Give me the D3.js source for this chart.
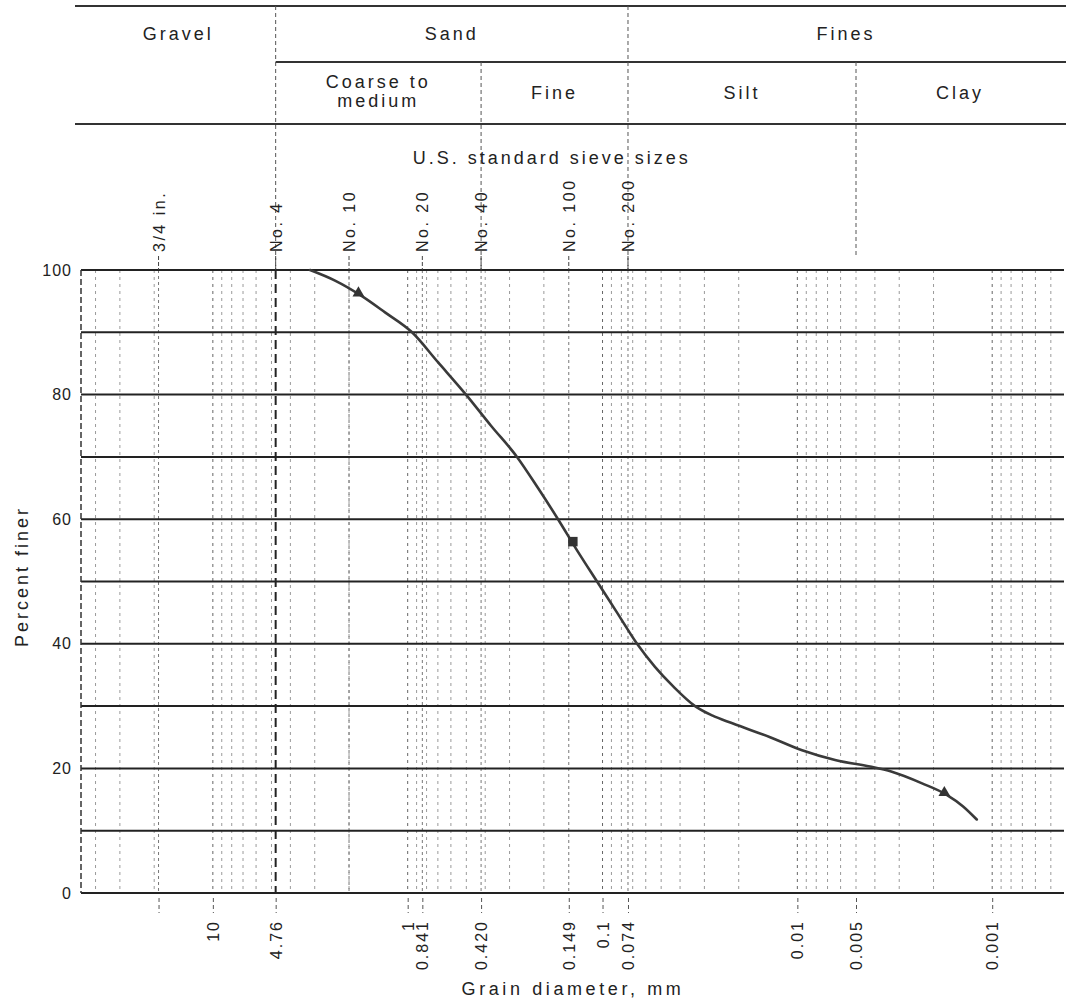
<!DOCTYPE html>
<html>
<head>
<meta charset="utf-8">
<script src="https://cdn.jsdelivr.net/npm/d3@7"></script>
<style>
  html, body { margin: 0; padding: 0; background: #fff; }
  svg text { font-family: "Liberation Sans", Arial, Helvetica, sans-serif; fill: #222; }
</style>
</head>
<body>
<svg id="chart" width="1066" height="1003"></svg>
<script>
// ---------------- DATA ----------------
// Grain-size distribution curve: diameter (mm) and percent finer
const curveDiameter = [3.17, 2.36, 1.757, 1.307, 0.950, 0.699, 0.502, 0.3735, 0.2747, 0.2143, 0.1692,
  0.1351, 0.1067, 0.0842, 0.0665, 0.0538, 0.0435, 0.0335, 0.0274, 0.0214, 0.0138, 0.00946, 0.00633,
  0.00424, 0.0033, 0.00229, 0.00172, 0.00141, 0.0012];
const curvePercent = [100, 98.3, 96.0, 93.2, 90, 85.2, 80, 75, 70, 65, 60,
  55, 50, 45, 40, 36.3, 33.2, 30, 28.5, 27.2, 25, 22.9, 21.3,
  20.3, 19.5, 17.6, 15.8, 13.9, 11.8];

// Hand-marked points on the curve
const markDiameter = [1.79, 0.142, 0.00176];
const markPercent = [96.3, 56.4, 16.1];

// U.S. standard sieves
const sieveNames = ["3/4 in.", "No. 4", "No. 10", "No. 20", "No. 40", "No. 100", "No. 200"];
const sieveOpening = [19, 4.76, 2.0, 0.841, 0.42, 0.149, 0.074];

// Soil classes (header)
const classRow1 = ["Gravel", "Sand", "Fines"];
const classRow1Bounds = [[47.5, 4.76], [4.76, 0.074], [0.074, 0.000428]];
const classRow2 = [["Coarse to", "medium"], ["Fine"], ["Silt"], ["Clay"]];
const classRow2Bounds = [[4.76, 0.42], [0.42, 0.074], [0.074, 0.005], [0.005, 0.000428]];

// Bottom axis ticks
const xTickValues = [19, 10, 4.76, 1, 0.841, 0.42, 0.149, 0.1, 0.074, 0.01, 0.005, 0.001];
const xTickLabels = ["", "10", "4.76", "1", "0.841", "0.420", "0.149", "0.1", "0.074", "0.01", "0.005", "0.001"];
const yTickValues = [0, 20, 40, 60, 80, 100];
const yGridValues = [0, 10, 20, 30, 40, 50, 60, 70, 80, 90, 100];

// ---------------- LAYOUT ----------------
const svg = d3.select("#chart");
const P = { left: 81, right: 1064, top: 270, bottom: 893 };
const header = { top: 6, mid: 62, low: 124, lineLeft: 75, lineRight: 1066 };

const x = d3.scaleLog().domain([47.5, 0.000428]).range([P.left, P.right]);
const y = d3.scaleLinear().domain([0, 100]).range([P.bottom, P.top]);

// minor log grid (vertical)
const minor = [];
for (let e = -4; e <= 1; e++) {
  for (let m = 1; m <= 9; m++) {
    const v = m * Math.pow(10, e);
    if (v < 47.5 && v > 0.000428) minor.push(v);
  }
}
const isDecade = d => Math.abs(Math.log10(d) - Math.round(Math.log10(d))) < 1e-9;
svg.append("g").selectAll("line").data(minor).join("line")
  .attr("x1", d => x(d)).attr("x2", d => x(d))
  .attr("y1", P.top).attr("y2", P.bottom)
  .attr("stroke", d => isDecade(d) ? "#666" : "#9a9a9a")
  .attr("stroke-width", 1)
  .attr("stroke-dasharray", "3,4");

// sieve lines through plot
svg.append("g").selectAll("line").data(sieveOpening).join("line")
  .attr("x1", d => x(d)).attr("x2", d => x(d))
  .attr("y1", P.top).attr("y2", P.bottom)
  .attr("stroke", d => d === 4.76 ? "#222" : "#777")
  .attr("stroke-width", d => d === 4.76 ? 2 : 1)
  .attr("stroke-dasharray", d => d === 4.76 ? "9,5" : "3,3");

// horizontal grid
svg.append("g").selectAll("line").data(yGridValues).join("line")
  .attr("x1", P.left).attr("x2", P.right)
  .attr("y1", d => y(d)).attr("y2", d => y(d))
  .attr("stroke", "#222").attr("stroke-width", 2);

// left edge
svg.append("line").attr("x1", P.left).attr("x2", P.left)
  .attr("y1", P.top).attr("y2", P.bottom)
  .attr("stroke", "#333").attr("stroke-width", 1.5).attr("stroke-dasharray", "6,3");

// ---------------- HEADER ----------------
const hg = svg.append("g");
[header.top, header.low].forEach(v => hg.append("line")
  .attr("x1", header.lineLeft).attr("x2", header.lineRight)
  .attr("y1", v).attr("y2", v).attr("stroke", "#333").attr("stroke-width", 2));
hg.append("line").attr("x1", x(4.76)).attr("x2", header.lineRight)
  .attr("y1", header.mid).attr("y2", header.mid).attr("stroke", "#333").attr("stroke-width", 2);

// dividers
const dividers = [[4.76, header.top], [0.074, header.top], [0.42, header.mid], [0.005, header.mid]];
hg.selectAll("line.div").data(dividers).join("line").attr("class", "div")
  .attr("x1", d => x(d[0])).attr("x2", d => x(d[0]))
  .attr("y1", d => d[1]).attr("y2", d => d[0] === 0.005 ? P.top - 12 : P.top)
  .attr("stroke", "#555").attr("stroke-width", 1).attr("stroke-dasharray", "4,3");

const hText = { size: 18, ls: 3 };
hg.selectAll("text.r1").data(classRow1).join("text").attr("class", "r1")
  .attr("x", (d, i) => (Math.max(x(classRow1Bounds[i][0]), header.lineLeft) + Math.min(x(classRow1Bounds[i][1]), header.lineRight)) / 2)
  .attr("y", 40)
  .attr("text-anchor", "middle").attr("font-size", hText.size).attr("letter-spacing", hText.ls)
  .text(d => d);

classRow2.forEach((lines, i) => {
  const cx = (x(classRow2Bounds[i][0]) + Math.min(x(classRow2Bounds[i][1]), header.lineRight)) / 2;
  const t = hg.append("text").attr("text-anchor", "middle")
    .attr("font-size", hText.size).attr("letter-spacing", hText.ls);
  if (lines.length === 1) {
    t.attr("x", cx).attr("y", 99).text(lines[0]);
  } else {
    lines.forEach((ln, j) => t.append("tspan").attr("x", cx).attr("y", 88 + j * 19).text(ln));
  }
});

hg.append("text").attr("x", (x(4.76) + x(0.074)) / 2 + 100).attr("y", 164)
  .attr("text-anchor", "middle").attr("font-size", hText.size).attr("letter-spacing", 3)
  .text("U.S. standard sieve sizes");

// sieve labels + ticks
const sg = svg.append("g");
sg.selectAll("line").data(sieveOpening).join("line")
  .attr("x1", d => x(d)).attr("x2", d => x(d))
  .attr("y1", P.top - 14).attr("y2", P.top)
  .attr("stroke", "#444").attr("stroke-width", 1).attr("stroke-dasharray", "4,2");
sg.selectAll("text").data(sieveNames).join("text")
  .attr("transform", (d, i) => `translate(${x(sieveOpening[i]) + 6},${P.top - 18}) rotate(-90)`)
  .attr("text-anchor", "start").attr("font-size", 16).attr("letter-spacing", 2.5)
  .text(d => d);

// ---------------- AXES ----------------
const xAxis = d3.axisBottom(x).tickValues(xTickValues)
  .tickFormat((d, i) => xTickLabels[i]).tickSize(20).tickPadding(8);
const gx = svg.append("g").attr("transform", `translate(0,${P.bottom})`).call(xAxis);
gx.select(".domain").remove();
gx.selectAll(".tick line").attr("stroke", "#555").attr("stroke-dasharray", "4,3").attr("y1", 5);
gx.selectAll(".tick text")
  .attr("font-family", "Liberation Sans, Arial, sans-serif")
  .attr("font-size", 16).attr("letter-spacing", 2).attr("fill", "#222")
  .attr("text-anchor", "end").attr("dy", "0.35em")
  .attr("transform", "translate(0,27) rotate(-90)")
  .attr("x", 0).attr("y", 0);

const yAxis = d3.axisLeft(y).tickValues(yTickValues).tickSize(0).tickPadding(8);
const gy = svg.append("g").attr("transform", `translate(${P.left - 1},0)`).call(yAxis);
gy.select(".domain").remove();
gy.selectAll(".tick text").attr("font-family", "Liberation Sans, Arial, sans-serif")
  .attr("font-size", 16).attr("letter-spacing", 1).attr("fill", "#222");

svg.append("text").attr("transform", `translate(22,${(P.top + P.bottom) / 2 - 5}) rotate(-90)`)
  .attr("text-anchor", "middle").attr("dy", "0.35em")
  .attr("font-size", 18).attr("letter-spacing", 3).text("Percent finer");

svg.append("text").attr("x", 573).attr("y", 995)
  .attr("text-anchor", "middle").attr("font-size", 18).attr("letter-spacing", 3.6)
  .text("Grain diameter, mm");

// ---------------- CURVE ----------------
const pts = curveDiameter.map((d, i) => [d, curvePercent[i]]);
const line = d3.line().x(d => x(d[0])).y(d => y(d[1])).curve(d3.curveMonotoneX);
svg.append("path").datum(pts).attr("d", line)
  .attr("fill", "none").attr("stroke", "#3a3a3a").attr("stroke-width", 2.6)
  .attr("stroke-linecap", "round");

const marks = markDiameter.map((d, i) => [d, markPercent[i]]);
const symTypes = [d3.symbolTriangle, d3.symbolSquare, d3.symbolTriangle];
svg.append("g").selectAll("path").data(marks).join("path")
  .attr("transform", d => `translate(${x(d[0])},${y(d[1])})`)
  .attr("d", (d, i) => d3.symbol().type(symTypes[i]).size(i === 1 ? 90 : 60)())
  .attr("fill", "#333");
</script>
</body>
</html>
